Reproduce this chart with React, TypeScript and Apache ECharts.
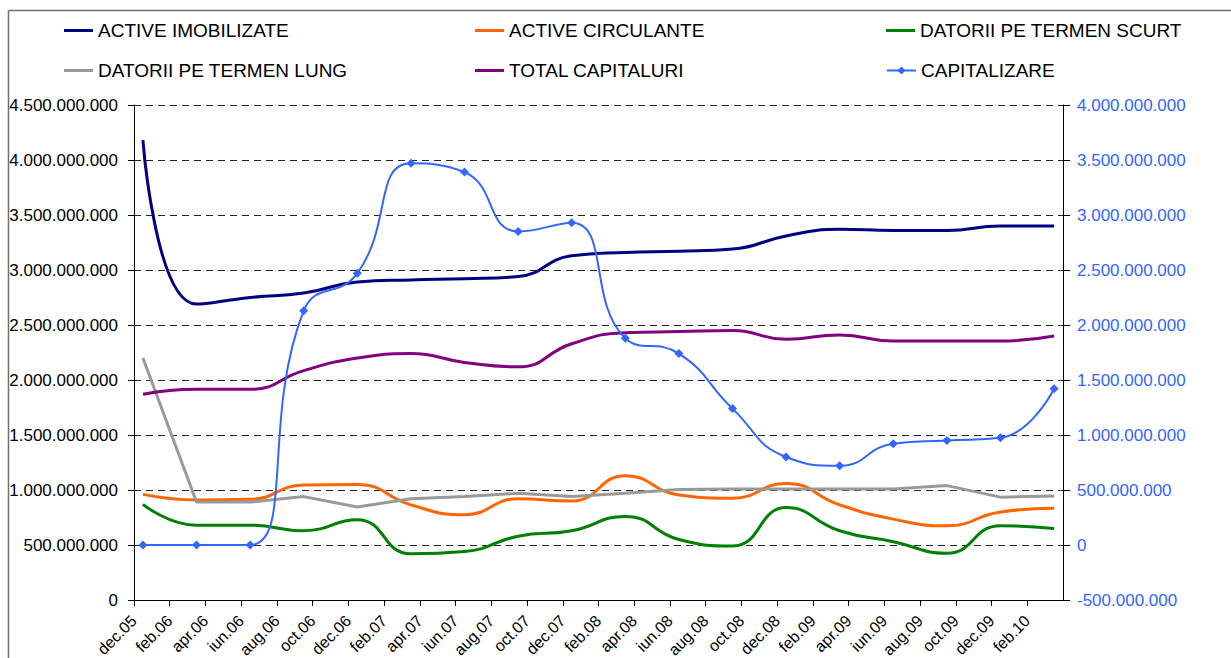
import React, { useEffect, useRef } from "react";
import * as echarts from "echarts";

// Monthly axis categories (date axis, base unit = month)
const months = [
  "dec.05", "ian.06", "feb.06", "mar.06", "apr.06", "mai.06", "iun.06", "iul.06", "aug.06", "sep.06", "oct.06", "noi.06",
  "dec.06", "ian.07", "feb.07", "mar.07", "apr.07", "mai.07", "iun.07", "iul.07", "aug.07", "sep.07", "oct.07", "noi.07",
  "dec.07", "ian.08", "feb.08", "mar.08", "apr.08", "mai.08", "iun.08", "iul.08", "aug.08", "sep.08", "oct.08", "noi.08",
  "dec.08", "ian.09", "feb.09", "mar.09", "apr.09", "mai.09", "iun.09", "iul.09", "aug.09", "sep.09", "oct.09", "noi.09",
  "dec.09", "ian.10", "feb.10", "mar.10",
];

// Quarterly reporting dates
const quarters = [
  "dec.05", "mar.06", "iun.06", "sep.06", "dec.06", "mar.07", "iun.07", "sep.07", "dec.07",
  "mar.08", "iun.08", "sep.08", "dec.08", "mar.09", "iun.09", "sep.09", "dec.09", "mar.10",
];

const activeImobilizate = [
  4_180_000_000, 2_690_000_000, 2_750_000_000, 2_790_000_000, 2_890_000_000, 2_910_000_000,
  2_920_000_000, 2_940_000_000, 3_130_000_000, 3_160_000_000, 3_170_000_000, 3_190_000_000,
  3_310_000_000, 3_370_000_000, 3_360_000_000, 3_360_000_000, 3_400_000_000, 3_400_000_000,
];
const activeCirculante = [
  960_000_000, 910_000_000, 915_000_000, 1_045_000_000, 1_050_000_000, 865_000_000,
  775_000_000, 920_000_000, 900_000_000, 1_130_000_000, 955_000_000, 925_000_000,
  1_060_000_000, 865_000_000, 735_000_000, 675_000_000, 800_000_000, 835_000_000,
];
const datoriiTermenScurt = [
  870_000_000, 680_000_000, 680_000_000, 630_000_000, 730_000_000, 420_000_000,
  440_000_000, 580_000_000, 630_000_000, 760_000_000, 550_000_000, 490_000_000,
  840_000_000, 630_000_000, 530_000_000, 425_000_000, 675_000_000, 650_000_000,
];
const datoriiTermenLung = [
  2_200_000_000, 890_000_000, 890_000_000, 940_000_000, 845_000_000, 920_000_000,
  940_000_000, 970_000_000, 940_000_000, 970_000_000, 1_005_000_000, 1_010_000_000,
  1_010_000_000, 1_010_000_000, 1_010_000_000, 1_040_000_000, 935_000_000, 945_000_000,
];
const totalCapitaluri = [
  1_870_000_000, 1_915_000_000, 1_915_000_000, 2_085_000_000, 2_200_000_000, 2_240_000_000,
  2_160_000_000, 2_120_000_000, 2_330_000_000, 2_430_000_000, 2_440_000_000, 2_450_000_000,
  2_370_000_000, 2_410_000_000, 2_355_000_000, 2_355_000_000, 2_355_000_000, 2_400_000_000,
];
const capitalizare = [
  0, 0, 0, 2_130_000_000, 2_470_000_000, 3_470_000_000,
  3_390_000_000, 2_850_000_000, 2_930_000_000, 1_880_000_000, 1_740_000_000, 1_240_000_000,
  800_000_000, 720_000_000, 920_000_000, 950_000_000, 975_000_000, 1_420_000_000,
];

const FONT = "'Liberation Sans', Arial, Helvetica, sans-serif";

const fmt = (v: number) => String(Math.round(v)).replace(/\B(?=(\d{3})+(?!\d))/g, ".");

// each quarterly value sits in the middle of its month slot
const toPoints = (vals: number[]) =>
  quarters.map((q, i) => [months.indexOf(q) + 0.5, vals[i]]);

export default function App() {
  const ref = useRef<HTMLDivElement>(null);

  useEffect(() => {
    if (!ref.current) return;
    const chart = echarts.init(ref.current, undefined, { renderer: "svg" });

    const legendBase = {
      itemWidth: 29,
      itemHeight: 3,
      itemGap: 0,
      padding: 0,
      textStyle: { fontSize: 19, color: "#000", fontFamily: FONT },
    };

    const SMOOTH = 0.5;

    const lineSeries = (name: string, vals: number[], color: string, smooth: boolean | number) => ({
      name,
      type: "line",
      data: toPoints(vals),
      smooth,
      symbol: "none",
      lineStyle: { color, width: 3 },
      itemStyle: { color },
      z: 2,
    });

    chart.setOption({
      animation: false,
      backgroundColor: "#fff",
      textStyle: { fontFamily: FONT },
      grid: {
        left: 134,
        right: 168,
        top: 105,
        bottom: 58,
        containLabel: false,
        outerBoundsMode: "none",
      },
      legend: [
        { ...legendBase, data: [{ name: "ACTIVE IMOBILIZATE", icon: "rect" }], left: 64, top: 21 },
        { ...legendBase, data: [{ name: "ACTIVE CIRCULANTE", icon: "rect" }], left: 475, top: 21 },
        { ...legendBase, data: [{ name: "DATORII PE TERMEN SCURT", icon: "rect" }], left: 886, top: 21 },
        { ...legendBase, data: [{ name: "DATORII PE TERMEN LUNG", icon: "rect" }], left: 64, top: 61 },
        { ...legendBase, data: [{ name: "TOTAL CAPITALURI", icon: "rect" }], left: 475, top: 61 },
        { ...legendBase, itemHeight: 10, data: ["CAPITALIZARE"], left: 886, top: 61 },
      ],
      xAxis: {
        type: "value",
        min: 0,
        max: months.length,
        interval: 2,
        axisLine: { show: true, onZero: false, lineStyle: { color: "#000", width: 1 } },
        axisTick: { show: true, length: 6, lineStyle: { color: "#000" } },
        splitLine: { show: false },
        axisLabel: {
          rotate: 45,
          margin: 18,
          fontSize: 16,
          color: "#000",
          fontFamily: FONT,
          showMaxLabel: false,
          formatter: (v: number) => (v < months.length ? months[v] : ""),
        },
      },
      yAxis: [
        {
          type: "value",
          min: 0,
          max: 4_500_000_000,
          interval: 500_000_000,
          axisLine: { show: true, onZero: false, lineStyle: { color: "#000", width: 1 } },
          axisTick: { show: true, length: 6, lineStyle: { color: "#000" } },
          splitLine: { show: true, lineStyle: { color: "#222", width: 1, type: [7, 5] } },
          axisLabel: { fontSize: 17, color: "#000", margin: 16, fontFamily: FONT, formatter: fmt },
        },
        {
          type: "value",
          position: "right",
          min: -500_000_000,
          max: 4_000_000_000,
          interval: 500_000_000,
          axisLine: { show: true, onZero: false, lineStyle: { color: "#000", width: 1 } },
          axisTick: { show: true, length: 7, lineStyle: { color: "#000" } },
          splitLine: { show: false },
          axisLabel: { fontSize: 17, color: "#3366FF", margin: 14, fontFamily: FONT, formatter: fmt },
        },
      ],
      series: [
        lineSeries("ACTIVE IMOBILIZATE", activeImobilizate, "#000080", SMOOTH),
        lineSeries("ACTIVE CIRCULANTE", activeCirculante, "#FF6600", SMOOTH),
        lineSeries("DATORII PE TERMEN SCURT", datoriiTermenScurt, "#008000", SMOOTH),
        lineSeries("DATORII PE TERMEN LUNG", datoriiTermenLung, "#999999", false),
        lineSeries("TOTAL CAPITALURI", totalCapitaluri, "#800080", SMOOTH),
        {
          name: "CAPITALIZARE",
          type: "line",
          yAxisIndex: 1,
          data: toPoints(capitalizare),
          smooth: SMOOTH,
          symbol: "diamond",
          symbolSize: 9,
          showSymbol: true,
          lineStyle: { color: "#3366FF", width: 2 },
          itemStyle: { color: "#3366FF" },
          z: 3,
        },
      ],
      graphic: [
        { type: "line", shape: { x1: 8.5, y1: 10.5, x2: 1231, y2: 10.5 }, style: { stroke: "#707070", lineWidth: 1.5 } },
        { type: "line", shape: { x1: 8.5, y1: 10.5, x2: 8.5, y2: 658 }, style: { stroke: "#707070", lineWidth: 1.5 } },
      ],
    });

    return () => chart.dispose();
  }, []);

  return (
    <div
      ref={ref}
      style={{ position: "fixed", left: 0, top: 0, width: 1231, height: 658, background: "#fff" }}
    />
  );
}
